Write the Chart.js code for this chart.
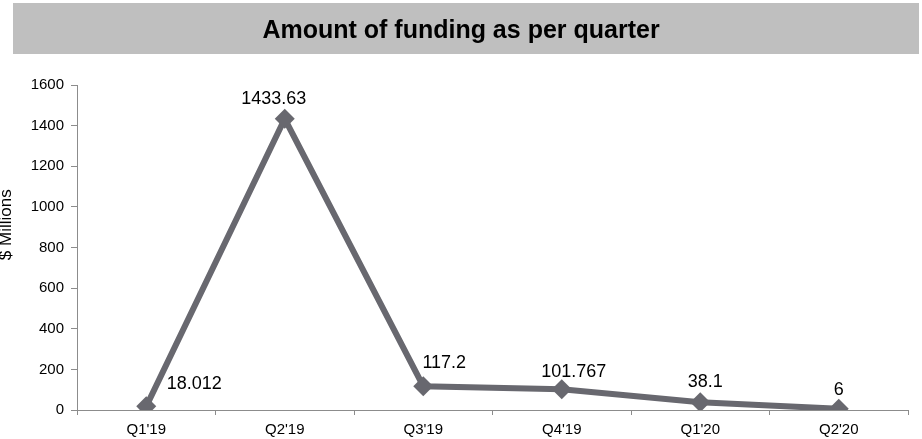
<!DOCTYPE html>
<html>
<head>
<meta charset="utf-8">
<title>Amount of funding as per quarter</title>
<script src="https://cdn.jsdelivr.net/npm/chart.js@4/dist/chart.umd.min.js"></script>
<style>
  html, body { margin: 0; padding: 0; background: #ffffff; }
  #wrap { width: 922px; height: 439px; position: relative; }
</style>
</head>
<body>
<div id="wrap"><canvas id="chart"></canvas></div>
<script>
// Quarterly funding, $ millions
const quarters = ["Q1'19", "Q2'19", "Q3'19", "Q4'19", "Q1'20", "Q2'20"];
const funding = [18.012, 1433.63, 117.2, 101.767, 38.1, 6];
const valueLabels = ["18.012", "1433.63", "117.2", "101.767", "38.1", "6"];
const yTicks = [0, 200, 400, 600, 800, 1000, 1200, 1400, 1600];

// Where each value label sits relative to its point (px)
const labelOffsets = [
  { dx: 48, dy: -22 },
  { dx: -11, dy: -20 },
  { dx: 21, dy: -23 },
  { dx: 12, dy: -17 },
  { dx: 5, dy: -20 },
  { dx: 0, dy: -19 }
];

const titleText = 'Amount of funding as per quarter';
const yTitleText = '$ Millions';
const FONT = '"Liberation Sans", Arial, Helvetica, sans-serif';
const lineColor = '#68686f';
const axisColor = '#8c8c8c';

// Grey title band, heading and rotated axis title
const decorPlugin = {
  id: 'decor',
  beforeDraw(chart) {
    const { ctx, width } = chart;
    ctx.save();
    ctx.fillStyle = '#bfbfbf';
    ctx.fillRect(13, 3, width - 13 - 3, 51);
    ctx.fillStyle = '#000000';
    ctx.font = 'bold 25px ' + FONT;
    ctx.textAlign = 'center';
    ctx.textBaseline = 'middle';
    ctx.fillText(titleText, width / 2, 31);
    ctx.restore();
  },
  afterDraw(chart) {
    const { ctx, chartArea } = chart;
    ctx.save();
    ctx.translate(6, chartArea.top + (chartArea.bottom - chartArea.top) * 0.43);
    ctx.rotate(-Math.PI / 2);
    ctx.fillStyle = '#000000';
    ctx.font = '17px ' + FONT;
    ctx.textAlign = 'center';
    ctx.textBaseline = 'middle';
    ctx.fillText(yTitleText, 0, 0);
    ctx.restore();
  }
};

// Value labels next to each point
const valueLabelPlugin = {
  id: 'valueLabels',
  afterDatasetsDraw(chart) {
    const { ctx } = chart;
    const meta = chart.getDatasetMeta(0);
    ctx.save();
    ctx.fillStyle = '#000000';
    ctx.font = '18px ' + FONT;
    ctx.textAlign = 'center';
    ctx.textBaseline = 'middle';
    meta.data.forEach((pt, i) => {
      const off = labelOffsets[i];
      ctx.fillText(valueLabels[i], pt.x + off.dx, pt.y + off.dy);
    });
    ctx.restore();
  }
};

new Chart(document.getElementById('chart'), {
  type: 'line',
  data: {
    labels: quarters,
    datasets: [{
      data: funding,
      borderColor: lineColor,
      backgroundColor: lineColor,
      borderWidth: 6,
      pointStyle: 'rectRot',
      pointRadius: 10,
      pointHoverRadius: 10,
      pointBorderWidth: 0,
      pointBackgroundColor: lineColor,
      tension: 0
    }]
  },
  options: {
    responsive: true,
    maintainAspectRatio: false,
    animation: false,
    events: [],
    layout: { padding: { top: 85, left: 0, right: 14, bottom: 0 } },
    plugins: {
      legend: { display: false },
      title: { display: false },
      tooltip: { enabled: false }
    },
    scales: {
      x: {
        offset: true,
        grid: {
          offset: true,
          drawOnChartArea: false,
          drawTicks: true,
          tickLength: 5,
          color: axisColor,
          lineWidth: 1
        },
        border: { color: axisColor, width: 1 },
        ticks: {
          color: '#000000',
          font: { family: FONT, size: 15 },
          padding: 6,
          maxRotation: 0
        },
        afterFit(scale) { scale.height = 29; }
      },
      y: {
        min: 0,
        max: 1600,
        afterBuildTicks(scale) {
          scale.ticks = yTicks.map(v => ({ value: v }));
        },
        grid: {
          drawOnChartArea: false,
          drawTicks: true,
          tickLength: 6,
          color: axisColor,
          lineWidth: 1
        },
        border: { color: axisColor, width: 1 },
        ticks: {
          color: '#000000',
          font: { family: FONT, size: 15 },
          padding: 7,
          callback: v => String(v)
        },
        afterFit(scale) { scale.width = 77; }
      }
    }
  },
  plugins: [decorPlugin, valueLabelPlugin]
});
</script>
</body>
</html>
